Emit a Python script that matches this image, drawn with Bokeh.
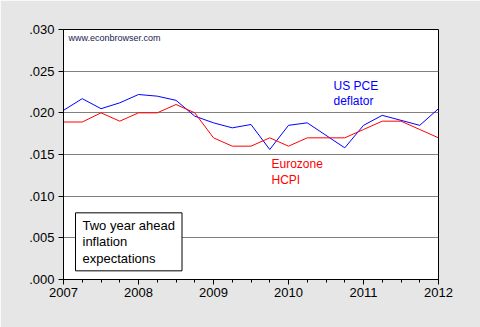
from bokeh.plotting import figure
from bokeh.models import Range1d, FixedTicker, CustomJSTickFormatter, Label
from bokeh.embed import file_html
from bokeh.resources import INLINE

# --- data ---
dates = [2007.00, 2007.25, 2007.50, 2007.75,
         2008.00, 2008.25, 2008.50, 2008.75,
         2009.00, 2009.25, 2009.50, 2009.75,
         2010.00, 2010.25, 2010.50, 2010.75,
         2011.00, 2011.25, 2011.50, 2011.75,
         2012.00]
us_pce = [0.0203, 0.0217, 0.0205, 0.0212,
          0.0222, 0.0220, 0.0215, 0.0196,
          0.0188, 0.0182, 0.0186, 0.0156,
          0.0185, 0.0188, 0.0173, 0.0158,
          0.0185, 0.0197, 0.0191, 0.0185,
          0.0205]
euro_hcpi = [0.0189, 0.0189, 0.0200, 0.0190,
             0.0200, 0.0200, 0.0210, 0.0200,
             0.0170, 0.0160, 0.0160, 0.0170,
             0.0160, 0.0170, 0.0170, 0.0170,
             0.0180, 0.0190, 0.0190, 0.0180,
             0.0170]
year_ticks = [2007, 2008, 2009, 2010, 2011, 2012]
quarter_ticks = [y + q / 4 for y in range(2007, 2012) for q in range(1, 4)]
y_ticks = [0.000, 0.005, 0.010, 0.015, 0.020, 0.025, 0.030]

FONT = "Liberation Sans"

p = figure(width=480, height=327, output_backend="svg", toolbar_location=None,
           x_range=Range1d(2007, 2012), y_range=Range1d(0, 0.03),
           min_border_left=63, min_border_right=42, min_border_top=29, min_border_bottom=48)
p.background_fill_color = "white"
p.border_fill_color = "#e6e6e6"
p.outline_line_color = "black"
p.outline_line_width = 1

p.xgrid.visible = False
p.ygrid.grid_line_color = "#808080"
p.ygrid.grid_line_width = 1

p.xaxis.ticker = FixedTicker(ticks=year_ticks, minor_ticks=quarter_ticks)
p.yaxis.ticker = FixedTicker(ticks=y_ticks, minor_ticks=[])
p.yaxis.formatter = CustomJSTickFormatter(code="return tick.toFixed(3).replace(/^0/, '');")

for ax in (p.xaxis[0], p.yaxis[0]):
    ax.axis_line_color = "black"
    ax.major_tick_line_color = "black"
    ax.minor_tick_line_color = "black"
    ax.major_tick_in = 0
    ax.major_tick_out = 5
    ax.minor_tick_in = 0
    ax.minor_tick_out = 3
    ax.major_label_text_font = FONT
    ax.major_label_text_font_size = "13px"
    ax.major_label_text_color = "black"
p.xaxis.major_label_standoff = 3
p.yaxis.major_label_standoff = 4

p.line(dates, us_pce, line_color="#0000ff", line_width=1)
p.line(dates, euro_hcpi, line_color="#ff0000", line_width=1)

p.add_layout(Label(x=2007.067, y=0.0296, text="www.econbrowser.com", text_font=FONT,
                   text_font_size="9px", text_color="#202050", anchor="top_left"))
p.add_layout(Label(x=2010.6, y=0.0241, text="US PCE\ndeflator", text_font=FONT,
                   text_font_size="12px", text_color="#0000ff", anchor="top_left",
                   text_line_height=1.12))
p.add_layout(Label(x=2009.773, y=0.0147, text="Eurozone\nHCPI", text_font=FONT,
                   text_font_size="12px", text_color="#ff0000", anchor="top_left",
                   text_line_height=1.12))
p.add_layout(Label(x=2007.16, y=0.0080, text="Two year ahead\ninflation\nexpectations",
                   text_font=FONT, text_font_size="13px", text_color="black",
                   anchor="top_left", text_line_height=1.1, padding=(7, 5),
                   border_line_color="black", border_line_width=1,
                   background_fill_color="white"))

open("out.html", "w").write(file_html(p, INLINE))
